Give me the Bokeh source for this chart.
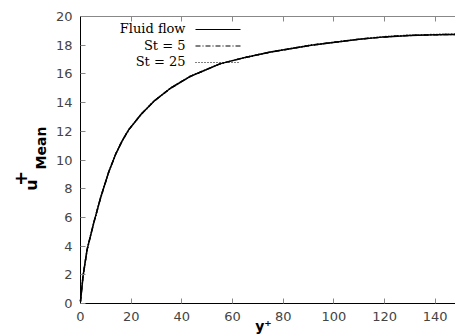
import math
from bokeh.plotting import figure
from bokeh.models import (Range1d, FixedTicker, LinearAxis, Label, Arrow, ColumnDataSource)
from bokeh.embed import file_html
from bokeh.resources import INLINE

# ---- data ----
y_plus = [0, 1, 2.6, 5.2, 7.9, 11.2, 14, 16.5, 19, 24, 29, 35.5, 43, 55, 65, 75, 91, 110, 120, 130, 140, 148]
u_fluid = [0.15, 1.9, 3.75, 5.6, 7.35, 9.2, 10.45, 11.35, 12.1, 13.2, 14.1, 15.0, 15.8, 16.7, 17.15, 17.52, 18.0, 18.42, 18.58, 18.68, 18.73, 18.75]
u_st5 = [0.15, 1.9, 3.75, 5.6, 7.35, 9.2, 10.45, 11.35, 12.1, 13.2, 14.1, 15.0, 15.8, 16.7, 17.15, 17.52, 18.0, 18.42, 18.58, 18.68, 18.73, 18.75]
u_st25 = [0.15, 1.9, 3.75, 5.6, 7.35, 9.2, 10.45, 11.35, 12.1, 13.2, 14.1, 15.0, 15.8, 16.7, 17.15, 17.52, 18.0, 18.42, 18.6, 18.7, 18.75, 18.78]
series_names = ["Fluid flow", "St = 5", "St = 25"]
x_ticks = [0, 20, 40, 60, 80, 100, 120, 140]
y_ticks = [0, 2, 4, 6, 8, 10, 12, 14, 16, 18, 20]
x_label = "y\u207a"

W, H = 455, 335
# frame covers whole canvas; axes sit at fixed data locations
X_END = 148
X_START = -80 * X_END / (W - 80)
KY = (303 - 16) / 20.0
Y_START = -(H - 303) / KY
Y_END = 20 + 16 / KY

p = figure(width=W, height=H, output_backend="svg", toolbar_location=None,
           x_range=Range1d(X_START, X_END), y_range=Range1d(Y_START, Y_END),
           min_border=0, min_border_left=0, min_border_right=0,
           min_border_top=0, min_border_bottom=0)
p.outline_line_color = None
p.grid.grid_line_color = None
p.background_fill_color = "white"
p.border_fill_color = "white"

for ax in (p.xaxis[0], p.yaxis[0]):
    ax.fixed_location = 0
    ax.major_tick_in = 5
    ax.major_tick_out = 0
    ax.minor_tick_line_color = None
    ax.major_tick_line_color = "#888888"
    ax.axis_line_color = "black"
    ax.major_label_text_font = "DejaVu Sans"
    ax.major_label_text_font_size = "13px"
    ax.major_label_text_color = "#444444"
    ax.major_label_standoff = 8
p.xaxis[0].ticker = FixedTicker(ticks=x_ticks)
p.yaxis[0].ticker = FixedTicker(ticks=y_ticks)
p.xaxis[0].bounds = (0, X_END)
p.yaxis[0].bounds = (0, 20)

top = LinearAxis(ticker=FixedTicker(ticks=x_ticks), fixed_location=20, bounds=(0, X_END))
top.major_tick_in = 5
top.major_tick_out = 0
top.minor_tick_line_color = None
top.major_tick_line_color = "#888888"
top.axis_line_color = "#888888"
top.major_label_text_color = None
p.add_layout(top, "above")

src = ColumnDataSource(dict(x=y_plus, a=u_fluid, b=u_st5, c=u_st25))
p.line("x", "c", source=src, line_color="black", line_width=1.5, line_dash="1 2")
p.line("x", "b", source=src, line_color="black", line_width=1.5, line_dash="5 2 1 2")
p.line("x", "a", source=src, line_color="black", line_width=1.5)

# legend (text left of sample, gnuplot style); screen units from canvas bottom-left
dashes = ["solid", "5 2 1 2", "1 2"]
rows_y = [H - 28, H - 44.5, H - 61]
for name, dash, yy in zip(series_names, dashes, rows_y):
    p.add_layout(Label(x=185, y=yy, x_units="screen", y_units="screen", text=name,
                       text_align="right", text_baseline="middle",
                       text_font="DejaVu Serif", text_font_size="13px", text_color="black"))
    p.add_layout(Arrow(x_start=195, y_start=yy - 1, x_end=240, y_end=yy - 1,
                       start_units="screen", end_units="screen", start=None, end=None,
                       line_color="black", line_width=1.2, line_dash=dash))

# axis titles
p.add_layout(Label(x=263, y=2, x_units="screen", y_units="screen", text=x_label,
                   text_align="center", text_baseline="bottom",
                   text_font="DejaVu Sans", text_font_style="bold", text_font_size="14px",
                   text_color="black"))
p.add_layout(Label(x=19.5, y=H - 178, x_units="screen", y_units="screen", text="+",
                   angle=math.pi / 2, text_align="center", text_baseline="middle",
                   text_font="DejaVu Sans", text_font_style="bold", text_font_size="18px",
                   text_color="black"))
p.add_layout(Label(x=30.5, y=H - 184.5, x_units="screen", y_units="screen", text="u",
                   angle=math.pi / 2, text_align="center", text_baseline="middle",
                   text_font="DejaVu Sans", text_font_style="bold", text_font_size="16px",
                   text_color="black"))
p.add_layout(Label(x=40, y=H - 147.5, x_units="screen", y_units="screen", text="Mean",
                   angle=math.pi / 2, text_align="center", text_baseline="middle",
                   text_font="DejaVu Sans", text_font_style="bold", text_font_size="14px",
                   text_color="black"))

open("out.html", "w").write(file_html(p, INLINE))
